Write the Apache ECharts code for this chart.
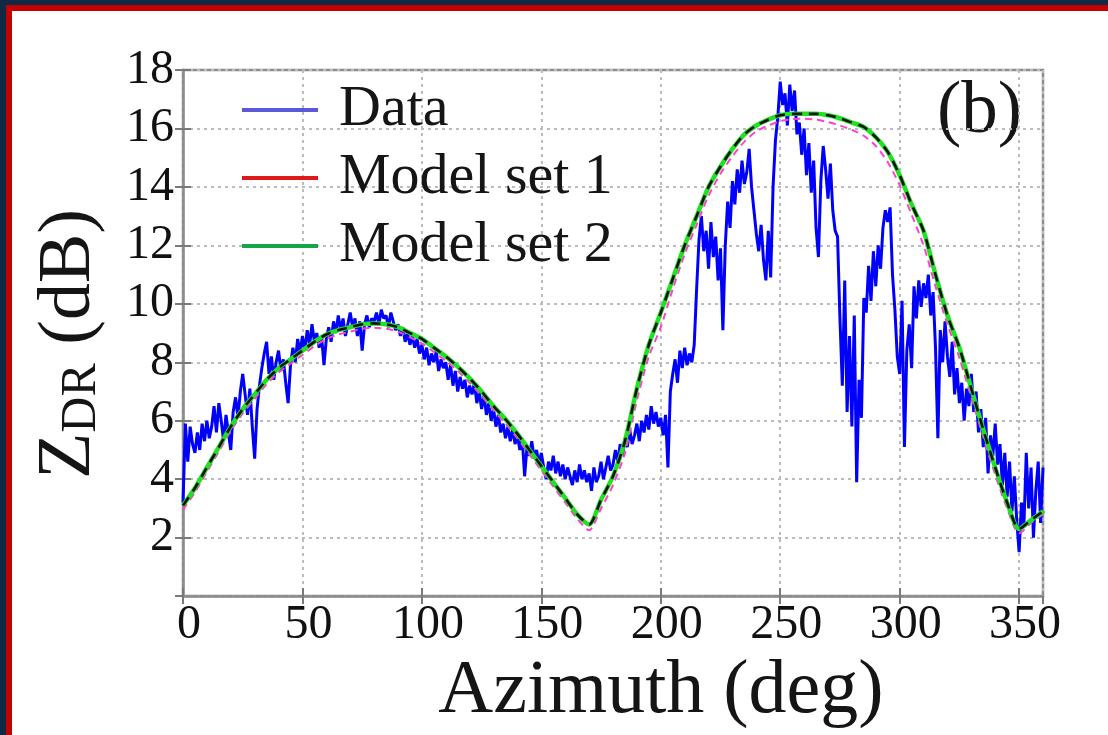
<!DOCTYPE html>
<html>
<head>
<meta charset="utf-8">
<script src="https://cdn.jsdelivr.net/npm/echarts@6/dist/echarts.min.js"></script>
<style>
  html, body { margin: 0; padding: 0; width: 1108px; height: 735px; overflow: hidden; background: #ffffff; }
  #c { position: absolute; left: 0; top: 0; width: 1108px; height: 735px; }
</style>
</head>
<body>
<div id="c"></div>
<script>
// ---------------- data ----------------
const xTickLabels = [0, 50, 100, 150, 200, 250, 300, 350];
const yTickLabels = [2, 4, 6, 8, 10, 12, 14, 16, 18];

// Measured ZDR (dB), one value per degree of azimuth, 0..360
const dataStepDeg = 1;
const dataZdr = [
  3.2, 5.9, 4.6, 5.8, 5.2, 4.9, 5.6, 5.0, 5.9, 5.3,
  6.0, 5.4, 5.8, 6.5, 5.6, 6.6, 6.0, 5.3, 6.2, 5.6,
  5.0, 6.3, 6.8, 6.1, 7.0, 7.6, 6.9, 6.2, 7.1, 5.8,
  4.7, 6.4, 7.2, 7.8, 8.3, 8.7, 7.6, 8.2, 7.4, 8.0,
  8.4, 7.7, 8.1, 7.3, 6.6, 7.9, 8.5, 8.0, 8.8, 8.3,
  8.9, 8.4, 9.1, 8.6, 9.3, 8.7, 9.0, 8.5, 8.9, 7.9,
  8.8, 9.2, 8.7, 9.4, 9.0, 9.6, 9.1, 9.5, 8.9, 9.3,
  9.7, 9.2, 9.5, 8.9, 9.4, 8.4, 9.3, 9.6, 9.2, 9.5,
  9.4, 9.7, 9.3, 9.8, 9.5, 9.6, 9.2, 9.7, 9.4, 9.1,
  9.3, 8.9, 9.2, 8.7, 9.0, 8.6, 8.9, 8.5, 8.8, 8.3,
  8.6, 8.1, 8.5, 7.9, 8.3, 8.0, 8.4, 7.7, 8.1, 7.8,
  8.0, 7.4, 7.9, 7.2, 7.7, 7.0, 7.5, 7.1, 7.4, 6.8,
  7.2, 6.9, 7.3, 6.6, 7.0, 6.4, 6.9, 6.2, 6.6, 6.0,
  6.4, 5.8, 6.2, 5.6, 5.9, 5.4, 5.8, 5.3, 5.7, 5.2,
  5.5, 5.0, 5.4, 4.1, 5.1, 4.8, 5.3, 4.7, 5.0, 4.5,
  4.9, 4.4, 4.0, 4.6, 4.3, 4.8, 4.2, 4.6, 4.1, 4.5,
  4.0, 4.4, 4.1, 3.8, 4.3, 3.9, 4.5, 4.0, 4.3, 3.9,
  4.2, 3.6, 4.4, 3.9, 4.1, 4.6, 4.0, 4.4, 4.8, 4.3,
  4.5, 5.0, 4.6, 5.2, 4.8, 5.4, 5.1, 5.7, 5.2, 5.5,
  5.9, 5.3, 6.0, 5.6, 6.2, 5.7, 6.5, 5.9, 6.3, 5.8,
  6.1, 5.5, 6.2, 4.4, 7.0, 7.6, 8.1, 7.3, 8.4, 7.8,
  8.5, 7.9, 8.3, 8.0, 8.6, 10.5, 12.2, 13.0, 11.8, 12.5,
  11.2, 12.8, 11.6, 12.3, 10.8, 11.9, 9.1, 12.0, 13.5, 12.6,
  14.2, 13.4, 14.6, 13.8, 14.9, 14.1, 14.5, 15.3, 14.0, 13.2,
  12.4, 11.8, 12.7, 11.5, 10.8, 12.5, 10.9, 14.0, 15.6, 16.4,
  17.6, 16.8, 17.2, 16.1, 17.5, 16.6, 17.3, 15.8, 16.2, 15.1,
  16.0, 14.4, 15.5, 13.8, 14.9, 12.6, 11.6, 14.2, 15.4, 14.6,
  13.6, 14.8, 13.2, 12.5, 12.3, 9.5, 7.2, 10.8, 6.3, 8.9,
  5.8, 9.6, 3.9, 7.4, 6.1, 10.2, 9.7, 11.3, 10.1, 11.8,
  10.6, 12.0, 11.2, 12.6, 13.2, 12.8, 13.3, 11.0, 9.8, 8.2,
  7.6, 10.1, 5.1, 8.4, 9.3, 7.8, 10.6, 9.5, 10.8, 9.9,
  10.7, 10.2, 11.0, 9.6, 10.4, 8.5, 5.4, 9.1, 8.0, 9.4,
  8.2, 7.5, 8.7, 6.9, 7.8, 6.6, 7.3, 6.0, 7.1, 6.5,
  7.6, 6.3, 7.0, 5.6, 6.4, 5.1, 6.1, 4.2, 5.5, 4.8,
  5.9, 4.5, 5.2, 3.8, 4.9, 3.4, 4.6, 2.9, 4.1, 2.6,
  1.5, 3.2, 2.4, 4.9, 3.0, 4.4, 2.0, 3.6, 4.6, 2.5,
  4.4
];

// Model curves (dB), every 5 degrees of azimuth, 0..360
const modelStepDeg = 5;
const modelSet1 = [
  2.95, 3.55, 4.25, 4.95, 5.65, 6.25, 6.75, 7.25, 7.65, 7.95,
  8.25, 8.55, 8.8, 8.95, 9.05, 9.15, 9.18, 9.15, 9.05, 8.85,
  8.65, 8.35, 8.05, 7.7, 7.3, 6.85, 6.35, 5.9, 5.4, 4.85,
  4.3, 3.75, 3.2, 2.65, 2.25, 3.0, 3.8, 4.9, 6.7, 8.2,
  9.2, 10.5, 11.7, 12.7, 13.7, 14.45, 15.05, 15.55, 15.9, 16.1,
  16.25, 16.32, 16.33, 16.3, 16.22, 16.1, 15.95, 15.75, 15.4, 14.85,
  14.05, 13.05, 12.0, 10.6, 9.3, 8.15, 6.8, 5.45, 4.15, 3.0,
  2.15, 2.5, 2.8
];
const modelSet2 = [
  3.1, 3.7, 4.4, 5.1, 5.8, 6.4, 6.9, 7.4, 7.8, 8.1,
  8.4, 8.7, 8.95, 9.1, 9.2, 9.3, 9.33, 9.3, 9.2, 9.0,
  8.8, 8.5, 8.2, 7.85, 7.45, 7.0, 6.5, 6.05, 5.55, 5.0,
  4.45, 3.9, 3.35, 2.8, 2.45, 3.3, 4.1, 5.3, 7.1, 8.6,
  9.7, 10.85, 12.0, 13.0, 14.0, 14.7, 15.3, 15.8, 16.1, 16.3,
  16.45, 16.5, 16.5, 16.5, 16.45, 16.35, 16.2, 16.05, 15.7, 15.2,
  14.4, 13.4, 12.5, 11.0, 9.6, 8.5, 7.1, 5.7, 4.4, 3.2,
  2.3, 2.6, 2.9
];

const legendNames = ['Data', 'Model set 1', 'Model set 2'];

// ---------------- chart ----------------
const serif = '"Liberation Serif", "DejaVu Serif", serif';
const toPairs = (arr, step) => arr.map((v, i) => [i * step, v]);

const axisGray = '#8c8c8c';
const gridGray = '#bcbcbc';
const navy = '#0f2a42';
const frameRed = '#c40000';
const tickStyle = { show: true, inside: true, length: 8, lineStyle: { color: '#7a7a7a', width: 2 } };

const chart = echarts.init(document.getElementById('c'), null, { renderer: 'canvas' });
chart.setOption({
  backgroundColor: '#ffffff',
  animation: false,
  grid: { left: 183, top: 70, right: 65, bottom: 132, show: true, backgroundColor: '#ffffff',
          borderColor: axisGray, borderWidth: 2.5 },
  legend: {
    orient: 'vertical', left: 237, top: 76,
    icon: 'rect', itemWidth: 76, itemHeight: 4, itemGap: 10,
    textStyle: { fontFamily: serif, fontSize: 58, color: '#151515', lineHeight: 52, padding: [0, 0, 0, 16] },
    data: [
      { name: legendNames[0], itemStyle: { color: '#5a5ad8' } },
      { name: legendNames[1], itemStyle: { color: '#e01818' } },
      { name: legendNames[2], itemStyle: { color: '#14a646' } }
    ],
    selectedMode: false
  },
  graphic: [
    { type: 'rect', left: 0, top: 0, shape: { width: 1108, height: 5 }, style: { fill: navy }, silent: true },
    { type: 'rect', left: 0, top: 0, shape: { width: 6, height: 735 }, style: { fill: navy }, silent: true },
    { type: 'rect', left: 6, top: 5, shape: { width: 1102, height: 6 }, style: { fill: frameRed }, silent: true },
    { type: 'rect', left: 6, top: 5, shape: { width: 6, height: 730 }, style: { fill: frameRed }, silent: true },
    { type: 'text', left: 937, top: 76,
      style: { text: '(b)', font: '73px "Liberation Serif", serif', fill: '#151515' } }
  ],
  xAxis: [{
    type: 'value', min: 0, max: 360, interval: 50,
    axisLine: { show: true, onZero: false, lineStyle: { color: axisGray, width: 2.5 } },
    axisTick: tickStyle,
    axisLabel: { showMaxLabel: false, fontFamily: serif, fontSize: 48, color: '#111', margin: 5,
                 padding: [0, 0, 0, 12],
                 formatter: v => (xTickLabels.indexOf(v) >= 0 ? String(v) : '') },
    splitLine: { show: true, lineStyle: { color: gridGray, width: 2, type: [3, 4] } },
    name: 'Azimuth (deg)', nameLocation: 'middle', nameGap: 48,
    nameTextStyle: { fontFamily: serif, fontSize: 76, color: '#151515', padding: [0, 0, 0, 96] }
  }, {
    type: 'value', position: 'top', min: 0, max: 360, interval: 50,
    axisLine: { show: false }, axisTick: tickStyle,
    axisLabel: { show: false }, splitLine: { show: false }
  }],
  yAxis: [{
    type: 'value', min: 0, max: 18, interval: 2,
    axisLine: { show: true, onZero: false, lineStyle: { color: axisGray, width: 2.5 } },
    axisTick: tickStyle,
    axisLabel: { showMinLabel: false, fontFamily: serif, fontSize: 48, color: '#111', margin: 9,
                 formatter: v => (yTickLabels.indexOf(v) >= 0 ? String(v) : '') },
    splitLine: { show: true, lineStyle: { color: gridGray, width: 2, type: [3, 4] } },
    name: '{z|Z}{s|DR}{t| (dB)}', nameLocation: 'middle', nameGap: 76, nameRotate: 90,
    nameTextStyle: {
      color: '#151515', padding: [0, 22, 0, 0],
      rich: {
        z: { fontFamily: serif, fontSize: 76, color: '#151515', verticalAlign: 'bottom' },
        s: { fontFamily: serif, fontSize: 50, color: '#151515', verticalAlign: 'bottom' },
        t: { fontFamily: serif, fontSize: 74, color: '#151515', verticalAlign: 'bottom' }
      }
    }
  }, {
    type: 'value', position: 'right', min: 0, max: 18, interval: 2,
    axisLine: { show: false }, axisTick: tickStyle,
    axisLabel: { show: false }, splitLine: { show: false }
  }],
  series: [
    { type: 'line', name: legendNames[0], data: toPairs(dataZdr, dataStepDeg), symbol: 'none', showSymbol: false,
      lineStyle: { color: '#0000ff', width: 3 }, itemStyle: { color: '#0000ff' }, z: 2 },
    { type: 'line', name: legendNames[1], data: toPairs(modelSet1, modelStepDeg), symbol: 'none', showSymbol: false,
      smooth: 0.25, lineStyle: { color: '#ff40cf', width: 2, type: [7, 5] }, itemStyle: { color: '#ff40cf' }, z: 3 },
    { type: 'line', name: legendNames[2], data: toPairs(modelSet2, modelStepDeg), symbol: 'none', showSymbol: false,
      smooth: 0.25, lineStyle: { color: '#22e022', width: 4.5 }, itemStyle: { color: '#22e022' }, z: 4 },
    { type: 'line', name: 'fit', data: toPairs(modelSet2, modelStepDeg), symbol: 'none', showSymbol: false,
      smooth: 0.25, lineStyle: { color: '#111111', width: 2.6, type: [10, 7] }, itemStyle: { color: '#111111' }, z: 5 }
  ]
});
</script>
</body>
</html>
